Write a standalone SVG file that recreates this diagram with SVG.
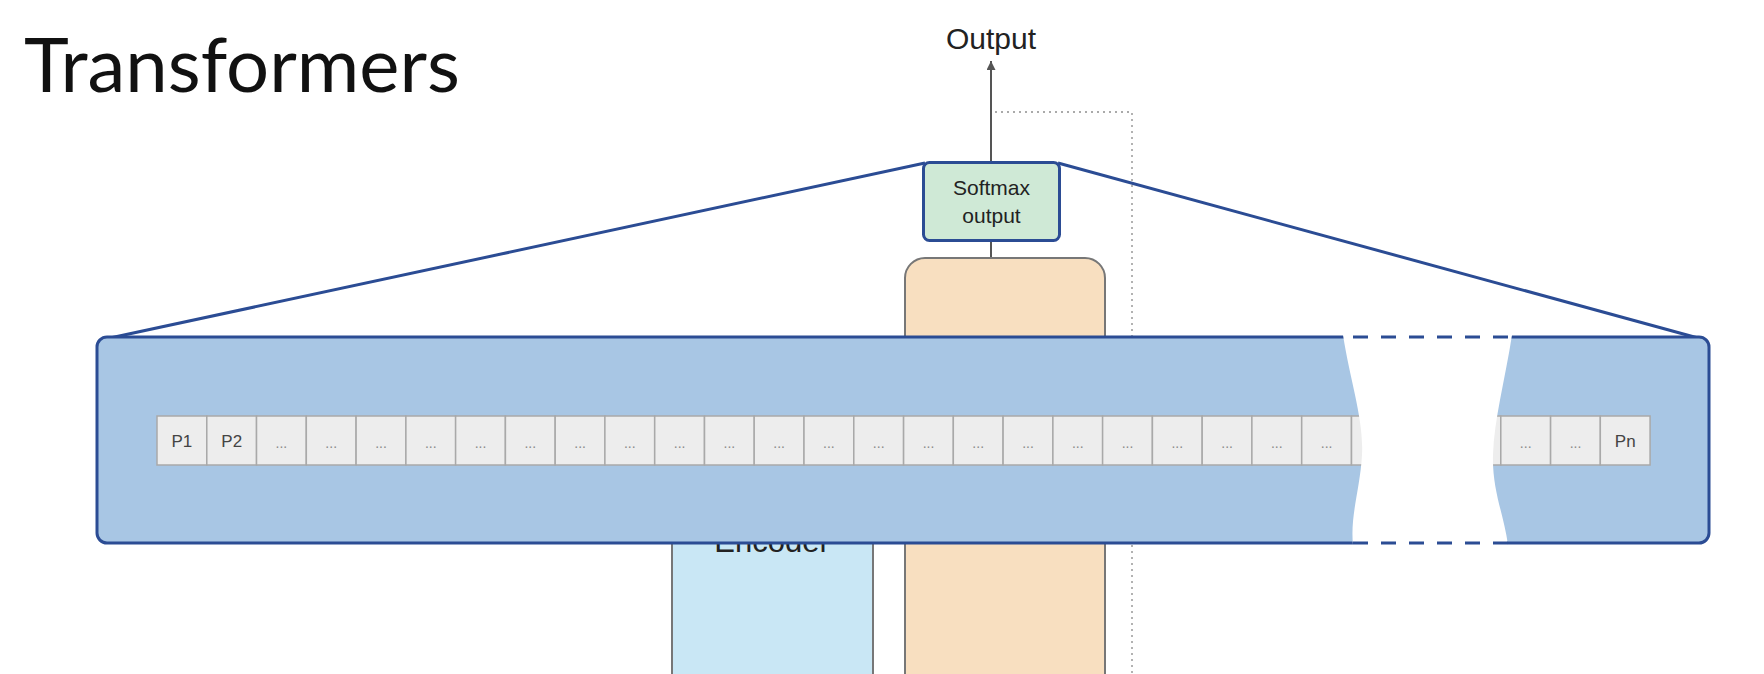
<svg xmlns="http://www.w3.org/2000/svg" width="1764" height="674" viewBox="0 0 1764 674">
<style>
.cell{fill:#ededed;stroke:#a9a9a9;stroke-width:1.5}
.pl{font-family:"Liberation Sans",Arial,sans-serif;font-size:17px;fill:#444;text-anchor:middle}
.dots{font-family:"Liberation Sans",Arial,sans-serif;font-size:14px;fill:#8a8a8a;text-anchor:middle}
.lbl{font-family:"Liberation Sans",Arial,sans-serif;fill:#222;text-anchor:middle}
.blue{stroke:#2b4c94;stroke-width:3;fill:none}
</style>
<defs>
<marker id="arr" viewBox="0 0 10 10" refX="10" refY="5" markerWidth="10" markerHeight="9" markerUnits="userSpaceOnUse" orient="auto">
<path d="M0,0 L10,5 L0,10 Z" fill="#555"/>
</marker>
</defs>
<rect width="1764" height="674" fill="#fff"/>
<text x="24" y="92" font-family="Lato,'Noto Sans',sans-serif" font-size="76" fill="#111">Transformers</text>

<g id="connectors">
<path d="M995,112 H1132 V674" fill="none" stroke="#aaa" stroke-width="1.8" stroke-dasharray="2,4"/>
<line x1="991" y1="163" x2="991" y2="61" stroke="#555" stroke-width="2" marker-end="url(#arr)"/>
<line x1="991" y1="241" x2="991" y2="259" stroke="#555" stroke-width="2"/>
<line class="blue" x1="925" y1="163" x2="110" y2="338"/>
<line class="blue" x1="1058" y1="163" x2="1698" y2="338"/>
</g>

<g id="decoder">
<rect x="905" y="258" width="200" height="460" rx="20" fill="#f8dfc0" stroke="#777" stroke-width="2"/>
</g>
<g id="encoder">
<rect x="672" y="380" width="201" height="340" rx="20" fill="#c9e7f5" stroke="#777" stroke-width="2"/>
<text class="lbl" x="772" y="552" font-size="31">Encoder</text>
</g>

<g id="zoom-panel">
<rect x="97" y="337" width="1612" height="206" rx="10" fill="#a8c6e4" stroke="#2b4c94" stroke-width="3"/>
<g id="cells">
<rect class="cell" x="157.0" y="416" width="49.77" height="49"/>
<rect class="cell" x="206.8" y="416" width="49.77" height="49"/>
<rect class="cell" x="256.5" y="416" width="49.77" height="49"/>
<rect class="cell" x="306.3" y="416" width="49.77" height="49"/>
<rect class="cell" x="356.1" y="416" width="49.77" height="49"/>
<rect class="cell" x="405.9" y="416" width="49.77" height="49"/>
<rect class="cell" x="455.6" y="416" width="49.77" height="49"/>
<rect class="cell" x="505.4" y="416" width="49.77" height="49"/>
<rect class="cell" x="555.2" y="416" width="49.77" height="49"/>
<rect class="cell" x="604.9" y="416" width="49.77" height="49"/>
<rect class="cell" x="654.7" y="416" width="49.77" height="49"/>
<rect class="cell" x="704.5" y="416" width="49.77" height="49"/>
<rect class="cell" x="754.2" y="416" width="49.77" height="49"/>
<rect class="cell" x="804.0" y="416" width="49.77" height="49"/>
<rect class="cell" x="853.8" y="416" width="49.77" height="49"/>
<rect class="cell" x="903.6" y="416" width="49.77" height="49"/>
<rect class="cell" x="953.3" y="416" width="49.77" height="49"/>
<rect class="cell" x="1003.1" y="416" width="49.77" height="49"/>
<rect class="cell" x="1052.9" y="416" width="49.77" height="49"/>
<rect class="cell" x="1102.6" y="416" width="49.77" height="49"/>
<rect class="cell" x="1152.4" y="416" width="49.77" height="49"/>
<rect class="cell" x="1202.2" y="416" width="49.77" height="49"/>
<rect class="cell" x="1251.9" y="416" width="49.77" height="49"/>
<rect class="cell" x="1301.7" y="416" width="49.77" height="49"/>
<rect class="cell" x="1351.5" y="416" width="49.77" height="49"/>
<rect class="cell" x="1401.3" y="416" width="49.77" height="49"/>
<rect class="cell" x="1451.0" y="416" width="49.77" height="49"/>
<rect class="cell" x="1500.8" y="416" width="49.77" height="49"/>
<rect class="cell" x="1550.6" y="416" width="49.77" height="49"/>
<rect class="cell" x="1600.3" y="416" width="49.77" height="49"/>
<text class="pl" x="181.9" y="447">P1</text>
<text class="pl" x="231.7" y="447">P2</text>
<text class="dots" x="281.4" y="448">...</text>
<text class="dots" x="331.2" y="448">...</text>
<text class="dots" x="381.0" y="448">...</text>
<text class="dots" x="430.8" y="448">...</text>
<text class="dots" x="480.5" y="448">...</text>
<text class="dots" x="530.3" y="448">...</text>
<text class="dots" x="580.1" y="448">...</text>
<text class="dots" x="629.8" y="448">...</text>
<text class="dots" x="679.6" y="448">...</text>
<text class="dots" x="729.4" y="448">...</text>
<text class="dots" x="779.1" y="448">...</text>
<text class="dots" x="828.9" y="448">...</text>
<text class="dots" x="878.7" y="448">...</text>
<text class="dots" x="928.5" y="448">...</text>
<text class="dots" x="978.2" y="448">...</text>
<text class="dots" x="1028.0" y="448">...</text>
<text class="dots" x="1077.8" y="448">...</text>
<text class="dots" x="1127.5" y="448">...</text>
<text class="dots" x="1177.3" y="448">...</text>
<text class="dots" x="1227.1" y="448">...</text>
<text class="dots" x="1276.8" y="448">...</text>
<text class="dots" x="1326.6" y="448">...</text>
<text class="dots" x="1525.7" y="448">...</text>
<text class="dots" x="1575.5" y="448">...</text>
<text class="pl" x="1625.2" y="447">Pn</text>
</g>
<path d="M1343,335 C1350,380 1364,420 1362,455 C1360,490 1350,515 1353,545 L1508,545 C1504,515 1492,490 1493,455 C1494,420 1505,380 1512,335 Z" fill="#fff"/>
<line x1="1350" y1="337" x2="1512" y2="337" stroke="#2b4c94" stroke-width="3" stroke-dasharray="15,13" stroke-dashoffset="-3"/>
<line x1="1350" y1="543" x2="1508" y2="543" stroke="#2b4c94" stroke-width="3" stroke-dasharray="15,13" stroke-dashoffset="-3"/>
</g>

<g id="softmax">
<rect x="923.5" y="162.5" width="136" height="78" rx="6" fill="#cfe9d6" stroke="#2b4c94" stroke-width="3"/>
<text class="lbl" x="991.5" y="195" font-size="21" fill="#333">Softmax</text>
<text class="lbl" x="991.5" y="223" font-size="21" fill="#333">output</text>
</g>
<g id="output">
<text class="lbl" x="991" y="49" font-size="30">Output</text>
</g>
</svg>
